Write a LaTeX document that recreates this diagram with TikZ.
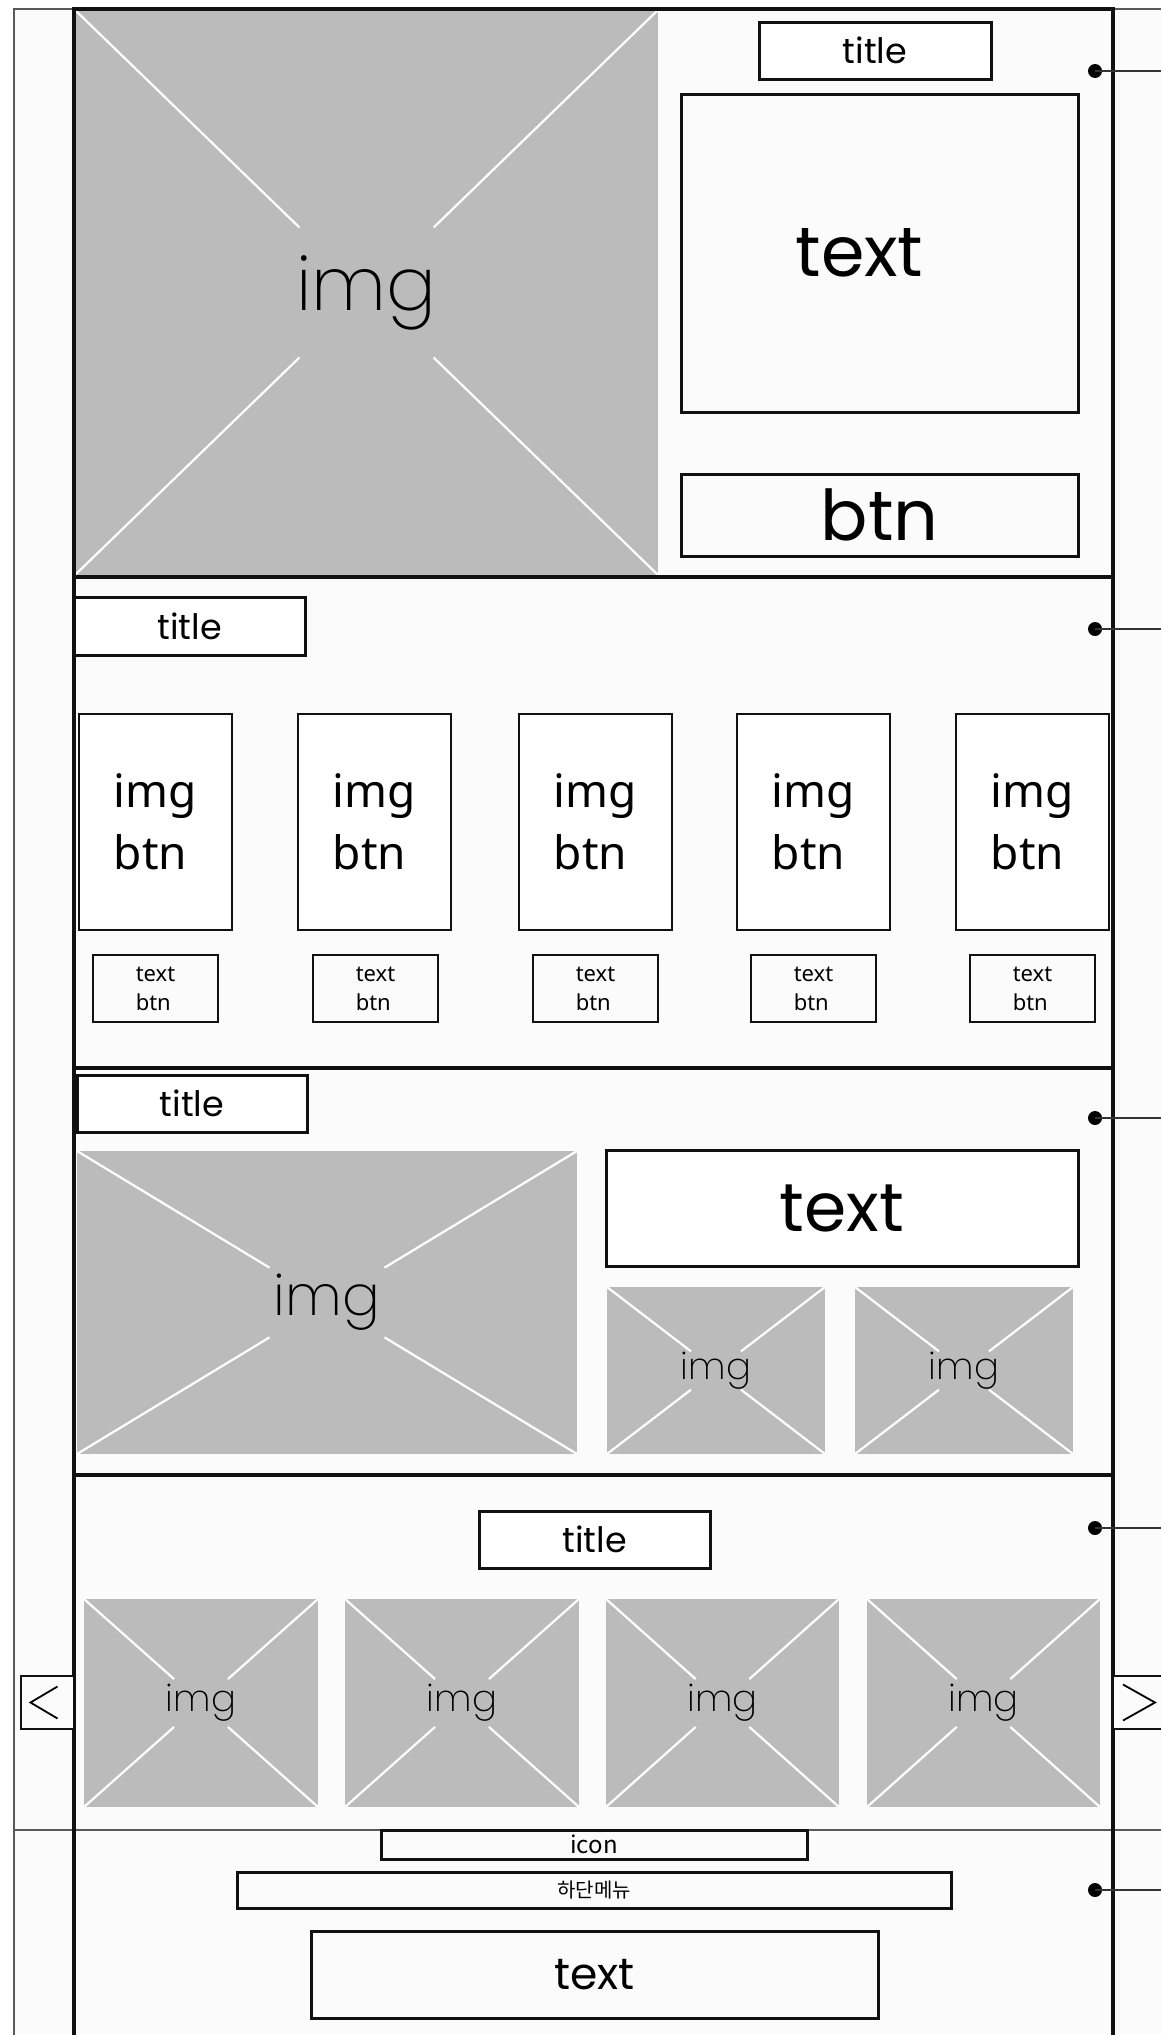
\documentclass[tikz,border=0pt]{standalone}
\usepackage{fontspec}
\setmainfont{Poppins}
\newfontfamily\lightf{Poppins}[UprightFont={* ExtraLight}]
\newfontfamily\notos{Noto Sans}
\newfontfamily\cjk{Noto Sans CJK KR}
\usetikzlibrary{calc}
\definecolor{phgray}{HTML}{BBBBBB}
\definecolor{bgc}{HTML}{FBFBFB}
\definecolor{ink}{HTML}{111111}
\newcommand\fsz[2]{\fontsize{#1}{#2}\selectfont}
\tikzset{
  box/.style={draw=ink, line width=3pt, fill=white, inner sep=0pt, outer sep=0pt, anchor=center, text=black},
  thinbox/.style={box, line width=2.2pt},
  phbox/.style={fill=phgray, draw=none, inner sep=0pt, outer sep=0pt, anchor=center, text=black},
  phline/.style={draw=white, line width=2.2pt},
  frameline/.style={draw=ink, line width=3.4pt},
  hair/.style={draw=black!65, line width=1.5pt},
  dotnode/.style={circle, fill=black, draw=none, inner sep=0pt, minimum size=14pt},
  lead/.style={draw=black!80, line width=2.2pt},
  chev/.style={draw=black, line width=1.8pt},
}
\newcommand\bx[7][]{\node[box,minimum width={(#5-#3)*1pt},minimum height={(#6-#4)*1pt},#1] (#2) at ({(#3+#5)/2},{(#4+#6)/2}) {#7};}
\newcommand\ph[7][]{\node[phbox,minimum width={(#5-#3)*1pt},minimum height={(#6-#4)*1pt},#1] (#2) at ({(#3+#5)/2},{(#4+#6)/2}) {#7};
  \foreach \c in {north west,north east,south west,south east}{\draw[phline] (#2.\c) -- ($(#2.\c)!0.77!(#2.center)$);}}
\begin{document}
\begin{tikzpicture}[x=1pt,y=-1pt]
\useasboundingbox (0,0) rectangle (1161,2035);
\fill[white] (0,0) rectangle (1161,2035);
\fill[bgc] (14,9) rectangle (1161,2035);
% outer thin lines
\draw[hair] (14,2035) -- (14,9) -- (1161,9);
\draw[hair] (14,1830) -- (1161,1830);

% ---------- section 1 ----------
\ph[font=\lightf\fsz{74}{80}]{img1}{75}{10}{658}{575}{img}
\bx[font=\fsz{35}{40}]{title1}{759}{22}{991}{79}{title}
\bx[font=\fsz{70}{80}, fill=bgc]{text1}{681}{94}{1078}{412}{\hspace*{-40pt}text}
\bx[font=\fsz{70}{80}, fill=bgc]{btn1}{681}{474}{1078}{556}{btn}

% ---------- section 2 ----------
\bx[font=\fsz{35}{40}]{title2}{74}{597}{305}{655}{title}
\foreach \x [count=\i] in {79,298,519,737,956}{
  \bx[thinbox,align=left,font=\notos\fsz{46}{62}]{ib\i}{\x}{714}{\x+153}{930}{img\\btn}
}
\foreach \x [count=\i] in {93,313,533,751,970}{
  \bx[thinbox,align=left,font=\notos\fsz{22}{29},fill=bgc]{tb\i}{\x}{955}{\x+125}{1022}{text\\btn}
}

% ---------- section 3 ----------
\bx[font=\fsz{35}{40}]{title3}{77}{1075}{307}{1132}{title}
\ph[font=\lightf\fsz{56}{60}]{img3}{77}{1151}{577}{1454}{img}
\bx[font=\fsz{68}{76}]{text3}{606}{1150}{1078}{1266}{text}
\ph[font=\lightf\fsz{37}{40}]{img3a}{607}{1287}{825}{1454}{img}
\ph[font=\lightf\fsz{37}{40}]{img3b}{855}{1287}{1073}{1454}{img}

% ---------- section 4 ----------
\bx[font=\fsz{35}{40}]{title4}{479}{1511}{710}{1568}{title}
\ph[font=\lightf\fsz{37}{40}]{img4a}{84}{1599}{318}{1807}{img}
\ph[font=\lightf\fsz{37}{40}]{img4b}{345}{1599}{579}{1807}{img}
\ph[font=\lightf\fsz{37}{40}]{img4c}{606}{1599}{839}{1807}{img}
\ph[font=\lightf\fsz{37}{40}]{img4d}{867}{1599}{1100}{1807}{img}

% ---------- footer ----------
\bx[font=\cjk\fsz{24}{28}, fill=bgc]{icon}{381}{1830}{807}{1859}{icon}
\bx[font=\cjk\fsz{20}{24}, fill=bgc]{menu}{237}{1872}{951}{1908}{하단메뉴}
\bx[font=\fsz{44}{50}, fill=bgc]{text5}{311}{1931}{878}{2018}{text}

% ---------- main frame ----------
\draw[frameline] (74,2035) -- (74,9) -- (1113,9) -- (1113,2035);
\draw[frameline] (74,577) -- (1113,577);
\draw[frameline] (74,1068) -- (1113,1068);
\draw[frameline] (74,1475) -- (1113,1475);

% arrows
\bx[line width=2.2pt, fill=bgc]{prev}{21}{1676}{74}{1729}{}
\bx[line width=2.2pt, fill=bgc]{next}{1113}{1676}{1175}{1729}{}
\draw[chev] ($(prev.center)+(10,-16)$) -- ($(prev.center)+(-17,0)$) -- ($(prev.center)+(10,16)$);
\draw[chev] ($(next.west)+(10,-18)$) -- ($(next.west)+(42,0)$) -- ($(next.west)+(10,18)$);

% markers
\foreach \y [count=\i] in {71,629,1118,1528,1890}{
  \node[dotnode] (d\i) at (1095,\y) {};
  \coordinate (e\i) at (1161,\y);
  \draw[lead] (d\i.center) -- (e\i);
}
\end{tikzpicture}
\end{document}
